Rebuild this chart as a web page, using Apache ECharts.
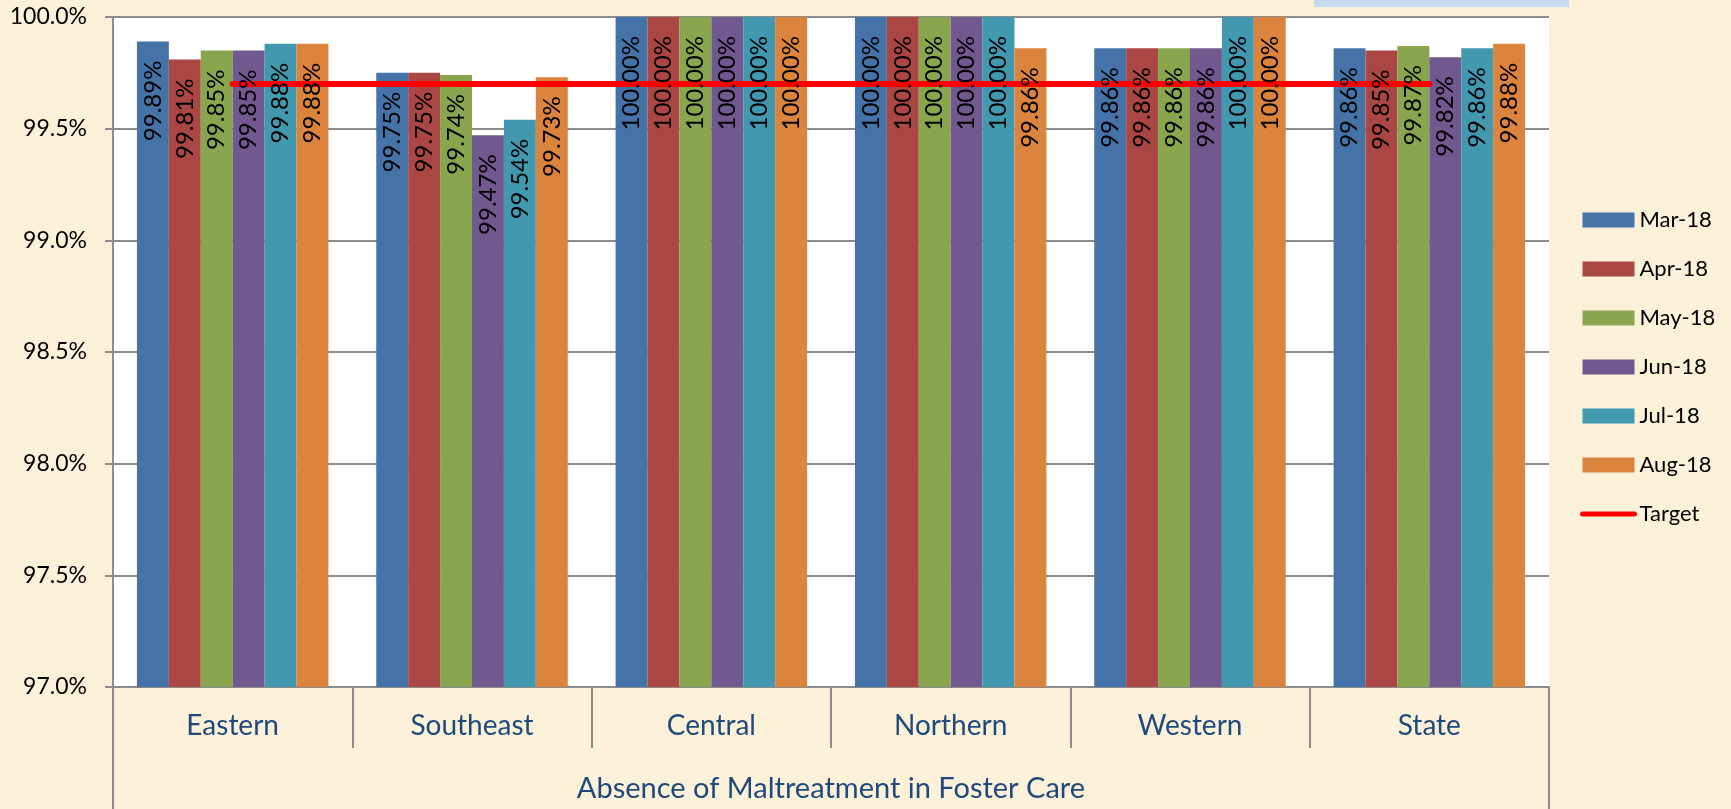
<!DOCTYPE html>
<html><head><meta charset="utf-8">
<script src="https://cdn.jsdelivr.net/npm/echarts@6/dist/echarts.min.js"></script>
<style>html,body{margin:0;padding:0;background:#FBF0D8;} #c{width:1731px;height:809px;}</style>
</head><body><div id="c"></div>
<script>
const categories = ['Eastern', 'Southeast', 'Central', 'Northern', 'Western', 'State'];
const seriesNames = ['Mar-18', 'Apr-18', 'May-18', 'Jun-18', 'Jul-18', 'Aug-18'];
const mar18 = [99.89, 99.75, 100.00, 100.00, 99.86, 99.86];
const apr18 = [99.81, 99.75, 100.00, 100.00, 99.86, 99.85];
const may18 = [99.85, 99.74, 100.00, 100.00, 99.86, 99.87];
const jun18 = [99.85, 99.47, 100.00, 100.00, 99.86, 99.82];
const jul18 = [99.88, 99.54, 100.00, 100.00, 100.00, 99.86];
const aug18 = [99.88, 99.73, 100.00, 99.86, 100.00, 99.88];
const target = [99.7, 99.7, 99.7, 99.7, 99.7, 99.7];
const targetName = 'Target';
const groupTitle = ['Absence of Maltreatment in Foster Care'];
const yMin = 97.0, yMax = 100.0, yInterval = 0.5;

const seriesValues = [mar18, apr18, may18, jun18, jul18, aug18];
const colors = ['#4572A7', '#AA4643', '#89A54E', '#71588F', '#4198AF', '#DB843D'];
const FONT = 'Lato';

const chart = echarts.init(document.getElementById('c'), null, {renderer: 'canvas'});

// visible bars (no labels)
const barSeries = seriesNames.map((name, i) => ({
  name: name,
  type: 'bar',
  xAxisIndex: 0,
  data: seriesValues[i],
  barGap: '0%',
  barCategoryGap: '20%',
  itemStyle: {color: colors[i]},
  z: 2
}));

// same bars on a hidden twin axis, transparent, carrying the labels above the target line
const labelSeries = seriesNames.map((name, i) => ({
  name: name + ' label',
  type: 'bar',
  xAxisIndex: 2,
  data: seriesValues[i],
  barGap: '0%',
  barCategoryGap: '20%',
  silent: true,
  itemStyle: {color: 'rgba(0,0,0,0)'},
  z: 4,
  label: {
    show: true,
    position: 'insideTop',
    rotate: 90,
    align: 'right',
    verticalAlign: 'middle',
    distance: 19,
    color: '#000',
    fontFamily: FONT,
    fontSize: 24,
    formatter: p => p.value.toFixed(2) + '%'
  }
}));

const option = {
  backgroundColor: '#FBF0D8',
  animation: false,
  textStyle: {fontFamily: FONT},
  grid: {
    left: 113, right: 182, top: 17, bottom: 122,
    show: true, backgroundColor: '#FFFFFF', borderWidth: 0
  },
  legend: {
    orient: 'vertical',
    left: 1575, top: 204,
    itemWidth: 52, itemHeight: 15, itemGap: 27,
    textStyle: {fontFamily: FONT, fontSize: 22, color: '#000', lineHeight: 20},
    data: seriesNames.map(n => ({name: n, icon: 'rect'})).concat([{
      name: targetName,
      itemStyle: {opacity: 0},
      lineStyle: {width: 5, cap: 'round', color: '#FF0000'}
    }])
  },
  xAxis: [
    {
      type: 'category', position: 'bottom', data: categories,
      axisLine: {lineStyle: {color: '#8C8C8C', width: 2}},
      axisTick: {show: true, length: 61, interval: 0, lineStyle: {color: '#8C8C8C', width: 2}},
      axisLabel: {color: '#1F497D', fontFamily: FONT, fontSize: 28, margin: 25, interval: 0},
      splitLine: {show: false}
    },
    {
      type: 'category', position: 'bottom', data: groupTitle,
      axisLine: {show: false},
      axisTick: {show: true, length: 122, lineStyle: {color: '#8C8C8C', width: 2}},
      axisLabel: {color: '#1F497D', fontFamily: FONT, fontSize: 29, margin: 87},
      splitLine: {show: false}
    },
    {
      type: 'category', position: 'bottom', data: categories, show: false
    }
  ],
  yAxis: {
    type: 'value', min: yMin, max: yMax, interval: yInterval,
    axisLine: {show: true, lineStyle: {color: '#8C8C8C', width: 2}},
    axisTick: {show: true, length: 8, lineStyle: {color: '#8C8C8C', width: 2}},
    axisLabel: {color: '#000', fontFamily: FONT, fontSize: 23, margin: 26,
      formatter: v => v.toFixed(1) + '%'},
    splitLine: {show: true, lineStyle: {color: '#8C8C8C', width: 2}}
  },
  graphic: [
    {type: 'rect', left: 1314, top: 0, shape: {width: 255, height: 7}, style: {fill: '#C6D9F1'}, silent: true}
  ],
  series: barSeries.concat([{
    name: targetName,
    type: 'line',
    xAxisIndex: 0,
    data: target,
    symbol: 'none',
    z: 3,
    lineStyle: {color: '#FF0000', width: 6, cap: 'round'},
    itemStyle: {color: '#FF0000'}
  }]).concat(labelSeries)
};
chart.setOption(option);
</script></body></html>
